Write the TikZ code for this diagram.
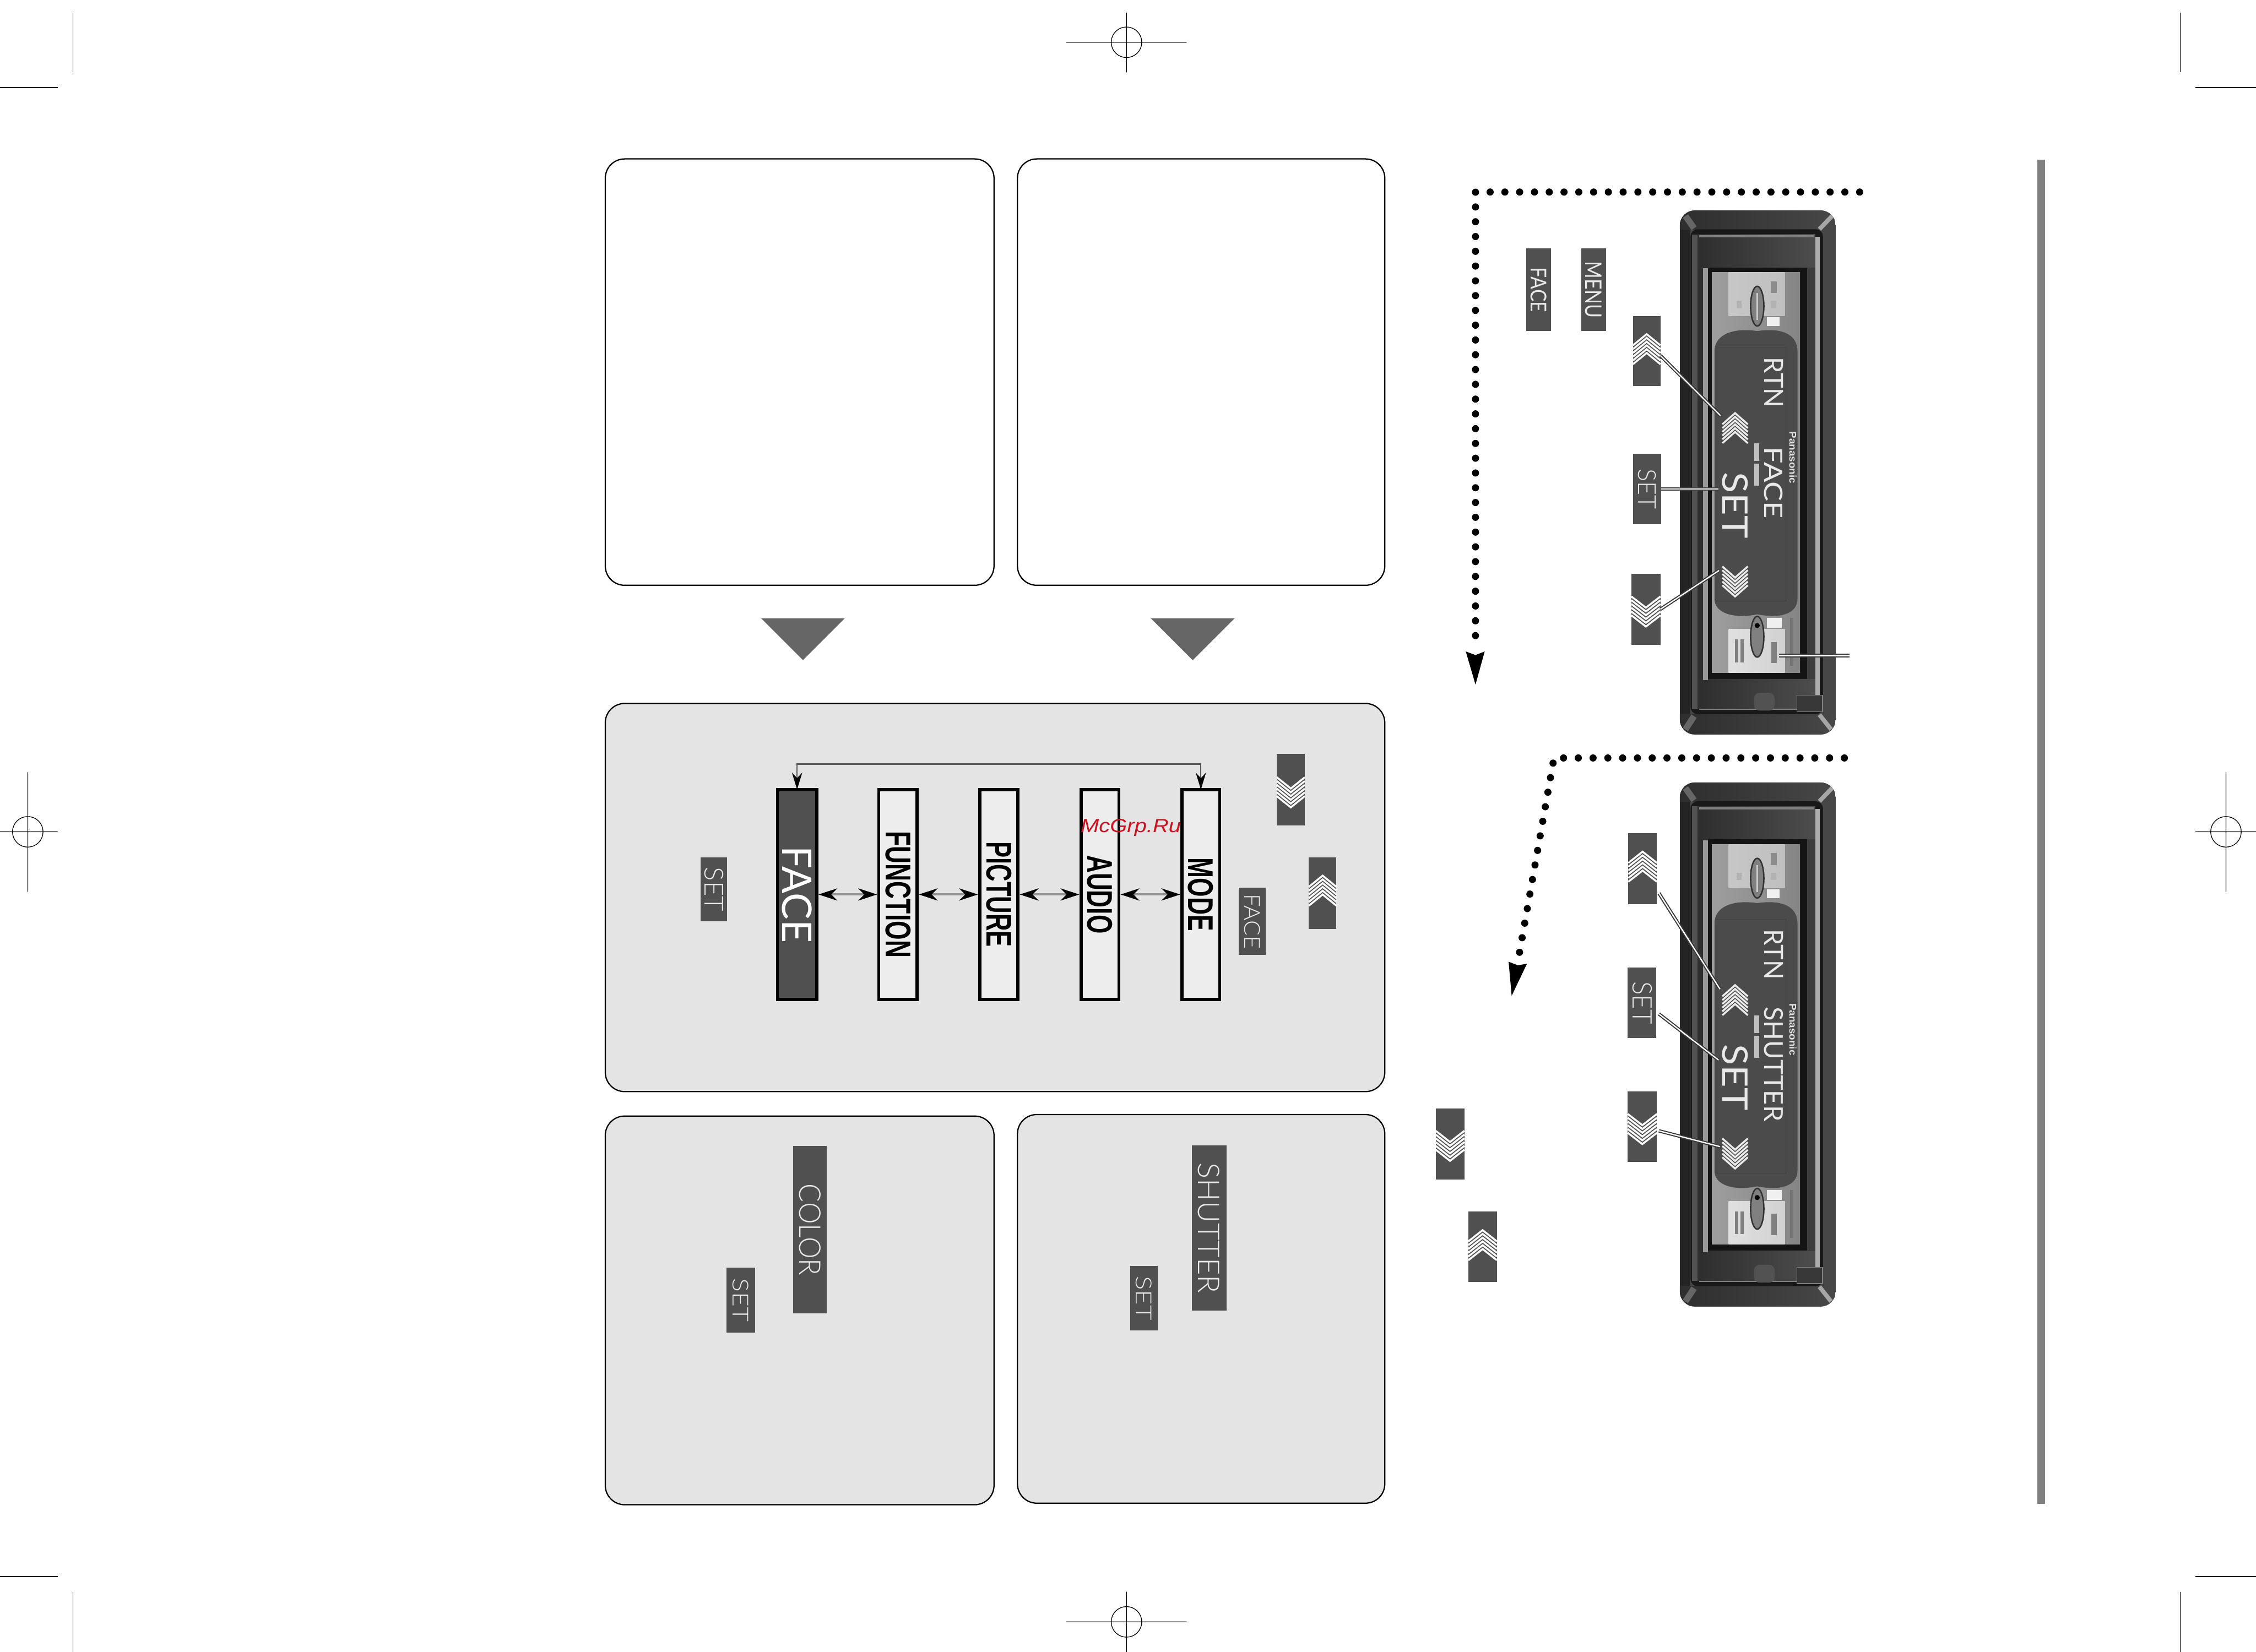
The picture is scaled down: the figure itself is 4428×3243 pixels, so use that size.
\documentclass[tikz,border=0pt]{standalone}
\usepackage{graphicx}
\usepackage{fontspec}
\setmainfont{Liberation Sans}
\newfontfamily\lcdfont[UprightFont=* Light]{Lato}
\newfontfamily\lcdmid{Lato}
\usetikzlibrary{arrows.meta}
\newlength\pxu \setlength\pxu{0.01cm}
\definecolor{panelgray}{HTML}{E4E4E4}
\definecolor{tilegray}{HTML}{505050}
\definecolor{lcdgray}{HTML}{4B4B4B}
\definecolor{lcdtext}{HTML}{E8E8E8}
\definecolor{wmred}{HTML}{D0101E}
\tikzset{
  anynode/.style={inner sep=0pt,outer sep=0pt,align=center},
  panelw/.style={anynode,draw=black,line width=0.7pt,rounded corners=10.8pt,fill=white},
  panelg/.style={anynode,draw=black,line width=0.7pt,rounded corners=10.8pt,fill=panelgray},
  tile/.style={anynode,fill=tilegray,text=lcdtext},
  modebox/.style={anynode,draw=black,line width=1.7pt,fill=black!7,text=black},
  modeact/.style={anynode,draw=black,line width=1.7pt,fill=tilegray,text=white},
  crop/.style={draw=black,line width=0.4pt},
  dots/.style={line width=4pt,line cap=round,dash pattern=on 0pt off 8.25pt},
  leader/.style={draw=black!78,line width=0.6pt,double=white,double distance=0.7pt},
  stepar/.style={draw=black!42,line width=1.2pt,{Stealth[length=10.5pt,width=6.8pt,black]}-{Stealth[length=10.5pt,width=6.8pt,black]},shorten <=1pt,shorten >=1pt},
  looparrow/.style={draw=black!65,line width=0.7pt,{Stealth[length=9.4pt,width=5.7pt,black]}-{Stealth[length=9.4pt,width=5.7pt,black]}},
  chev/.style={draw=#1,line width=1.05pt,miter limit=10},
  chev/.default=white,
}
% style, name, x1, y1, x2, y2, text
\newcommand\bx[7]{\node[#1,minimum width={(#5-#3)*0.01cm},minimum height={(#6-#4)*0.01cm}] (#2) at ({(#3+#5)/2},{(#4+#6)/2}) {#7};}
% rotated text fitted to length and cap height
\newcommand\vt[3]{\rotatebox{-90}{\resizebox{#1\pxu}{#2\pxu}{#3}}}
% colour, cx, ytip, halfwidth, direction (1 points up, -1 points down)
\newcommand\chevs[5]{\foreach \i in {0,...,5} {\draw[chev=#1] ({#2-#4},{#3+#5*(\i*7.4+22)}) -- (#2,{#3+#5*\i*7.4}) -- ({#2+#4},{#3+#5*(\i*7.4+22)});}}
% device body; argument: mode text, its position
\newcommand\device[2]{
  \begin{scope}
    \clip[rounded corners=8.5pt] (3297,413) rectangle (3603,1442);
    \fill[black!72] (3297,413) rectangle (3603,1442);
    \fill[black!86] (3297,413) rectangle (3318,1442);
    \shade[left color=black!82,right color=black!72] (3297,413) rectangle (3603,450);
    \shade[left color=black!82,right color=black!72] (3297,1402) rectangle (3603,1442);
    \draw[black!35,line width=2.4pt] (3571,450) -- (3596,424);
    \draw[black!35,line width=2.4pt] (3571,1403) -- (3594,1432);
    \draw[black!60,line width=3.5pt] (3325,448) -- (3308,424);
    \draw[black!60,line width=3.5pt] (3325,1406) -- (3308,1432);
  \end{scope}
  \fill[black!90,rounded corners=4pt] (3318,450) rectangle (3578,1402);
  \shade[left color=black!82,right color=black!70] (3332,460) rectangle (3563,525);
  \shade[left color=black!82,right color=black!70] (3332,1333) rectangle (3563,1392);
  \fill[black!68] (3321,460) rectangle (3332,1392);
  \fill[black!82] (3332,525) rectangle (3343,1333);
  \fill[black!40] (3343,527) rectangle (3352,1335);
  \fill[black!92] (3352,525) rectangle (3547,535);
  \fill[black!92] (3352,1320) rectangle (3547,1332);
  \fill[black!92] (3352,535) rectangle (3360,1320);
  \fill[black!92] (3533,535) rectangle (3547,1320);
  \fill[black!76] (3547,525) rectangle (3563,1333);
  \fill[black!32] (3563,465) rectangle (3572,1395);
  \fill[black!50] (3335,462) rectangle (3560,466);
  \fill[black!50] (3335,1391) rectangle (3560,1394);
  \shade[left color=black!38,middle color=black!58,right color=black!48] (3360,535) rectangle (3533,1320);
  \shade[left color=black!22,middle color=black!5,right color=black!25] (3393,535) rectangle (3503,620);
  \shade[left color=black!12,middle color=black!3,right color=black!18] (3393,1235) rectangle (3503,1320);
  \fill[black!6] (3468,623) rectangle (3493,640);
  \fill[black!6] (3468,1213) rectangle (3497,1233);
  \fill[black!45] (3476,552) rectangle (3487,575);
  \fill[black!30] (3476,590) rectangle (3486,605);
  \fill[black!30] (3408,590) rectangle (3418,605);
  \fill[black!50] (3477,1260) rectangle (3487,1302);
  \fill[black!50] (3405,1255) rectangle (3412,1300);
  \fill[black!50] (3416,1255) rectangle (3423,1300);
  \fill[black!55] (3513,1213) rectangle (3520,1307);
  \filldraw[fill=black!50,draw=black!80,line width=0.8pt] (3449,601) ellipse [x radius=13,y radius=39];
  \fill[black!20] (3447,575) rectangle (3451,628);
  \filldraw[fill=black!50,draw=black!80,line width=0.8pt] (3449,1250) ellipse [x radius=13,y radius=40];
  \fill[black] (3449,1228) circle [radius=5];
  \fill[lcdgray] (3365,690) .. controls (3365,655) and (3405,643) .. (3449,650) .. controls (3495,643) and (3528,655) .. (3528,690) -- (3528,1175) .. controls (3528,1205) and (3495,1215) .. (3449,1206) .. controls (3405,1215) and (3365,1205) .. (3365,1175) -- cycle;
  \draw[black!75,line width=0.3pt] (3368,682) rectangle (3505,1180);
  \fill[black!25] (3443,870) rectangle (3453,905);
  \fill[black!25] (3443,910) rectangle (3453,954);
  \node[anynode,text=lcdtext] (rtn) at (3481.5,751) {\vt{99}{37}{\lcdmid RTN}};
  \node[anynode,text=lcdtext] (mode) at (3481,#2) {#1};
  \node[anynode,text=lcdtext] (set) at (3406,992) {\vt{130}{50}{\lcdmid SET}};
  \node[anynode,text=black!12] (brand) at (3519,898) {\vt{102}{14}{\bfseries Panasonic}};
  \chevs{black!8}{3405.5}{811}{25}{1}
  \chevs{black!8}{3405.5}{1171}{25}{-1}
  \fill[black!68,rounded corners=3pt] (3443,1360) rectangle (3483,1395);
  \filldraw[fill=black!78,draw=black!50,line width=0.4pt] (3527,1365) rectangle (3577,1397);
}
\begin{document}
\begin{tikzpicture}[x=0.01cm,y=-0.01cm]
\useasboundingbox (0,0) rectangle (4428,3243);
% crop and registration marks
\draw[crop] (143,25) -- (143,142);
\draw[crop,line width=0.6pt] (0,172) -- (114,172);
\draw[crop] (4279,25) -- (4279,142);
\draw[crop] (4309,172) -- (4428,172);
\draw[crop] (143,3125) -- (143,3243);
\draw[crop] (0,3095) -- (114,3095);
\draw[crop] (4279,3125) -- (4279,3243);
\draw[crop] (4309,3095) -- (4428,3095);
\draw[crop] (2093,83) -- (2329,83) (2211,25) -- (2211,142) (2211,83) circle [radius=30];
\draw[crop] (2093,3184) -- (2329,3184) (2211,3125) -- (2211,3243) (2211,3184) circle [radius=30];
\draw[crop] (0,1633) -- (113,1633) (54.5,1516) -- (54.5,1751) (54.5,1633) circle [radius=30];
\draw[crop] (4309,1633) -- (4428,1633) (4369,1516) -- (4369,1751) (4369,1633) circle [radius=30];
% panels
\bx{panelw}{pTL}{1188}{312}{1951}{1149}{}
\bx{panelw}{pTR}{1997}{312}{2718}{1149}{}
\bx{panelg}{pMid}{1188}{1381}{2718}{2143}{}
\bx{panelg}{pBL}{1188}{2191}{1951}{2954}{}
\bx{panelg}{pBR}{1997}{2188}{2718}{2951}{}
% down triangles
\fill[black!60] (1494,1214) -- (1658,1214) -- (1576,1296) -- cycle;
\fill[black!60] (2259,1214) -- (2423,1214) -- (2341,1296) -- cycle;
% side bar
\fill[black!50] (3999,313) rectangle (4014,2952);
% mode row
\bx{modeact}{bFace}{1526}{1550}{1603}{1962}{\vt{190}{58}{\lcdmid FACE}}
\bx{modebox}{bFunc}{1725}{1550}{1800}{1962}{\vt{248}{49}{\bfseries FUNCTION}}
\bx{modebox}{bPict}{1923}{1550}{1998}{1962}{\vt{207}{49}{\bfseries PICTURE}}
\bx{modebox}{bAudio}{2122}{1550}{2196}{1962}{\vt{154}{49}{\bfseries AUDIO}}
\bx{modebox}{bMode}{2320}{1550}{2394}{1962}{\vt{144}{49}{\bfseries MODE}}
\draw[stepar] (bFace) -- (bFunc);
\draw[stepar] (bFunc) -- (bPict);
\draw[stepar] (bPict) -- (bAudio);
\draw[stepar] (bAudio) -- (bMode);
\coordinate (loopTop) at (1962,1500);
\draw[looparrow] (bFace.north) -- (bFace.north |- loopTop) -| (bMode.north);
% tiles in the middle panel
\bx{tile}{tSet}{1375}{1683}{1427}{1809}{\vt{87}{37}{\lcdfont SET}}
\bx{tile}{tFace}{2431}{1743}{2484}{1875}{\vt{108}{31}{\lcdfont FACE}}
\bx{tile}{tDn}{2506}{1480}{2561}{1621}{}
\chevs{white}{2533.5}{1585}{27.5}{-1}
\bx{tile}{tUp}{2569}{1683}{2623}{1824}{}
\chevs{white}{2596}{1719}{27}{1}
% tiles in the lower panels
\bx{tile}{tColor}{1557}{2250}{1623}{2578}{\vt{180}{42}{\lcdfont COLOR}}
\bx{tile}{tSetB}{1426}{2489}{1482}{2616}{\vt{85}{31}{\lcdfont SET}}
\bx{tile}{tShutter}{2339}{2249}{2407}{2573}{\vt{256}{42}{\lcdfont SHUTTER}}
\bx{tile}{tSetC}{2218}{2485}{2272}{2612}{\vt{87}{31}{\lcdfont SET}}
% devices
\begin{scope}[name prefix=dOne-]
  \device{\vt{141}{36}{\lcdmid FACE}}{948}
\end{scope}
\begin{scope}[shift={(0,1123)},name prefix=dTwo-]
  \device{\vt{225}{37}{\lcdmid SHUTTER}}{966}
\end{scope}
% tiles of device one
\bx{tile}{uFace}{2996}{488}{3044}{650}{\vt{88}{31}{\lcdmid FACE}}
\bx{tile}{uMenu}{3104}{488}{3152}{650}{\vt{111}{32}{\lcdmid MENU}}
\bx{tile}{uUp}{3205}{620}{3259}{758}{}
\chevs{white}{3232}{656}{27}{1}
\bx{tile}{uSet}{3205}{891}{3260}{1029}{\vt{79}{35}{\lcdfont SET}}
\bx{tile}{uDn}{3202}{1126}{3259}{1266}{}
\chevs{white}{3230.5}{1230}{28.5}{-1}
% tiles of device two
\bx{tile}{vUp}{3196}{1636}{3252}{1775}{}
\chevs{white}{3224}{1672}{28}{1}
\bx{tile}{vSet}{3195}{1899}{3251}{2038}{\vt{84}{38}{\lcdfont SET}}
\bx{tile}{vDn}{3195}{2143}{3252}{2281}{}
\chevs{white}{3223.5}{2246}{28.5}{-1}
\bx{tile}{wDn}{2818}{2176}{2874}{2316}{}
\chevs{white}{2846}{2279}{28}{-1}
\bx{tile}{wUp}{2882}{2378}{2938}{2517}{}
\chevs{white}{2910}{2415}{28}{1}
% leaders
\coordinate (upEnd) at (3377,816);
\coordinate (setEnd) at (3373,960);
\coordinate (dnEnd) at (3374,1120);
\coordinate (menuFrom) at (3492,1287);
\coordinate (menuTo) at (3630,1287);
\coordinate (upEndB) at (3376,1942);
\coordinate (setEndB) at (3373,2081);
\coordinate (dnEndB) at (3376,2251);
\draw[leader] ([yshift=-9\pxu]uUp.east) -- (upEnd);
\draw[leader] (uSet.east |- setEnd) -- (setEnd);
\draw[leader] (uDn.east) -- (dnEnd);
\draw[leader] (menuFrom) -- (menuTo);
\draw[leader] ([xshift=4\pxu,yshift=-48\pxu]vUp.east) -- (upEndB);
\draw[leader] ([xshift=5\pxu,yshift=-22\pxu]vSet.east) -- (setEndB);
\draw[leader] ([xshift=4\pxu,yshift=-8\pxu]vDn.east) -- (dnEndB);
% dotted arrows
\coordinate (dotA) at (3650,377);
\coordinate (dotB) at (2896,377);
\coordinate (dotC) at (2896,1270);
\draw[dots] (dotA) -- (dotB) -- (dotC);
\fill[black] (2877,1279) -- (2896,1286) -- (2914,1279) -- (2896,1344) -- cycle;
\coordinate (dotD) at (3620,1488);
\coordinate (dotE) at (3050,1488);
\coordinate (dotF) at (2981,1878);
\draw[dots] (dotD) -- (dotE) -- (dotF);
\fill[black] (2961,1888) -- (2979,1895) -- (2997,1892) -- (2967,1955) -- cycle;
% watermark
\node[anynode,anchor=base west,text=wmred] (wm) at (2121,1634) {\resizebox{197\pxu}{26\pxu}{\itshape McGrp.Ru}};
\end{tikzpicture}
\end{document}
